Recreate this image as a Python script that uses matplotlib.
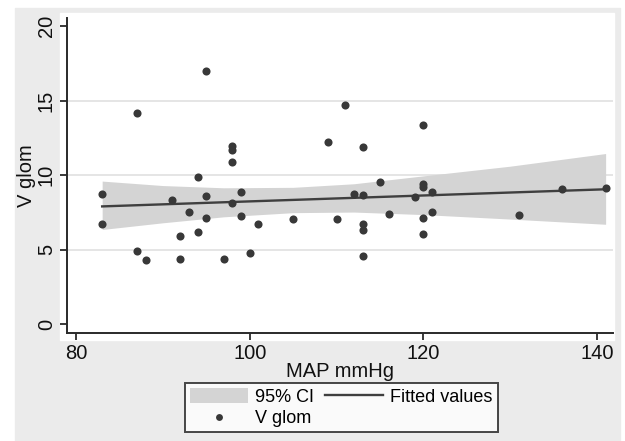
import matplotlib
matplotlib.use('Agg')
import matplotlib.pyplot as plt
from matplotlib.patches import Rectangle

plt.rcParams['font.family'] = ['Liberation Sans', 'DejaVu Sans']

# scatter: MAP mmHg vs V glom
map_mmhg = [83, 83, 87, 87, 88, 91, 92, 92, 93, 94, 94, 95, 95, 95, 97, 98, 98, 98, 98,
            99, 99, 100, 101, 105, 109, 110, 111, 112, 113, 113, 113, 113, 113, 115, 116,
            119, 120, 120, 120, 121, 121, 120, 120, 131, 136, 141]
v_glom = [8.75, 6.7, 14.2, 4.9, 4.3, 8.3, 5.9, 4.4, 7.55, 9.85, 6.2, 17.0, 8.6, 7.15, 4.4,
          11.95, 11.7, 10.85, 8.1, 8.9, 7.25, 4.8, 6.75, 7.05, 12.25, 7.05, 14.7, 8.75,
          11.9, 8.65, 6.75, 6.3, 4.6, 9.55, 7.4, 8.5, 13.35, 9.4, 9.2, 8.85, 7.55, 7.15,
          6.05, 7.35, 9.1, 9.15]

# fitted line and 95% CI band
fit_x = [83, 141]
fit_y = [7.9, 9.05]
ci_x = [83, 90, 97, 105, 112, 120, 130, 141]
ci_lo = [6.35, 6.8, 7.2, 7.48, 7.52, 7.35, 7.05, 6.7]
ci_hi = [9.6, 9.3, 9.15, 9.18, 9.42, 9.95, 10.6, 11.45]

W, H = 625, 441
fig = plt.figure(figsize=(W / 100, H / 100), dpi=100)
fig.patch.set_facecolor('white')
# stata-ish grey outer region and white plot region
fig.patches.append(Rectangle((15 / W, 0), (620 - 15) / W, 1 - 8 / H,
                             transform=fig.transFigure, color='#ebebeb', zorder=-2))
fig.patches.append(Rectangle((60 / W, 1 - 340 / H), (614 - 60) / W, (340 - 13) / H,
                             transform=fig.transFigure, color='white', zorder=-1))

ax = fig.add_axes([67 / W, 1 - 333 / H, (613 - 67) / W, (333 - 18) / H])
ax.set_facecolor('white')

ax.fill_between(ci_x, ci_lo, ci_hi, color='#d4d4d4', lw=0, label='95% CI', zorder=1)
ax.plot(fit_x, fit_y, color='#3f3f3f', lw=1.7, label='Fitted values', zorder=3)
ax.scatter(map_mmhg, v_glom, s=34, color='#383838', lw=0, label='V glom', zorder=4)

ax.set_xlim(78.95, 141.85)
ax.set_ylim(-0.6, 20.55)
ax.set_xticks([80, 100, 120, 140])
ax.set_yticks([0, 5, 10, 15, 20])
for g in [5, 10, 15]:
    ax.axhline(g, color='#e3e3e3', lw=1.3, zorder=0)

for s in ['top', 'right']:
    ax.spines[s].set_visible(False)
for s in ['left', 'bottom']:
    ax.spines[s].set_linewidth(1.4)
    ax.spines[s].set_color('#2a2a2a')

ax.tick_params(axis='both', length=5, width=1.3, color='#2a2a2a',
               labelsize=14.5, pad=3, labelcolor='#111111')
plt.setp(ax.get_yticklabels(), rotation=90, va='center')

ax.set_xlabel('MAP mmHg', fontsize=14.5, labelpad=-1, color='#111111')
ax.set_ylabel('V glom', fontsize=14.5, labelpad=1, color='#111111')

h, l = ax.get_legend_handles_labels()
order = [0, 2, 1]  # CI, V glom, Fitted values -> two columns
leg = fig.legend([h[i] for i in order], [l[i] for i in order], ncol=2,
                 loc='upper center', bbox_to_anchor=(341.5 / W, 1 - 383 / H),
                 fontsize=13, frameon=True, fancybox=False, edgecolor='#1a1a1a',
                 handlelength=3.2, handleheight=0.9, handletextpad=0.4,
                 columnspacing=0.6, labelspacing=0.15, borderpad=0.3,
                 borderaxespad=0, scatterpoints=1, markerscale=0.85)
leg.get_frame().set_linewidth(1.4)
leg.get_frame().set_facecolor('white')

fig.savefig('out.png', dpi=100)
